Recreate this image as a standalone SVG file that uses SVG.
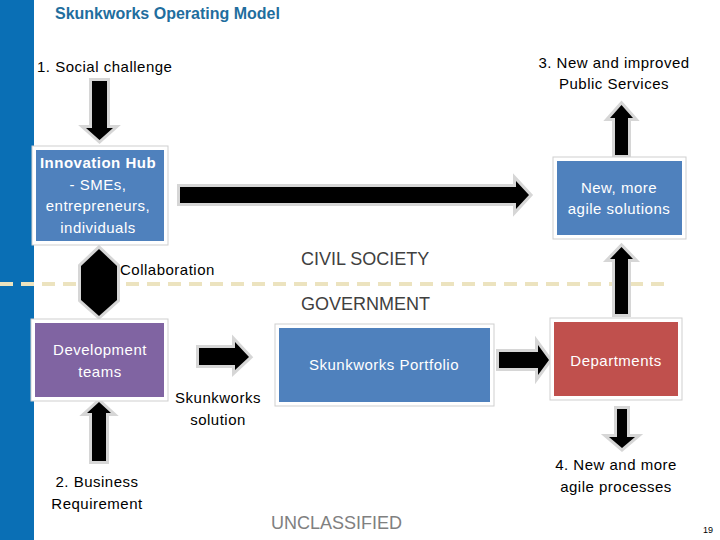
<svg xmlns="http://www.w3.org/2000/svg" width="720" height="540" viewBox="0 0 720 540">
<style>
.cal{font-family:"Liberation Sans","Noto Sans",Arial,sans-serif;font-size:15px;letter-spacing:0.5px;fill:#000}
.wt{font-family:"Liberation Sans","Noto Sans",Arial,sans-serif;font-size:15px;letter-spacing:0.5px;fill:#fff}
.ar{font-family:"Liberation Sans",Arial,sans-serif;font-size:18px;fill:#404040}
.arrow{fill:#000;stroke:#d6d6d6;stroke-width:6;paint-order:stroke;stroke-linejoin:miter}
.frame{fill:#fff;stroke:#cfcfcf;stroke-width:1}
</style>
<rect x="0" y="0" width="720" height="540" fill="#fff"/>
<rect x="0" y="0" width="34" height="540" fill="#0a6fb5"/>
<text x="55" y="19" font-family="Liberation Sans,Arial,sans-serif" font-size="16" font-weight="bold" fill="#1f6e9e">Skunkworks Operating Model</text>
<line x1="0" y1="284" x2="668" y2="284" stroke="#ece3bf" stroke-width="4" stroke-dasharray="13,8"/>
<text class="ar" x="301" y="265">CIVIL SOCIETY</text>
<text class="ar" x="301" y="310">GOVERNMENT</text>
<text x="271" y="529" font-family="Liberation Sans,Arial,sans-serif" font-size="18" fill="#808080">UNCLASSIFIED</text>
<text x="703" y="533" font-family="Liberation Sans,Arial,sans-serif" font-size="9" fill="#000">19</text>

<g id="connectors">
<polygon class="arrow" points="92,81 107,81 107,128 113,128 99.5,140 86,128 92,128"/>
<polygon class="arrow" points="180,187 516,187 516,181 529,195 516,209 516,203 180,203"/>
<polygon class="arrow" points="615,155 628,155 628,118 633,118 621.5,105 610,118 615,118"/>
<polygon class="arrow" points="615,314 628,314 628,259 633,259 621.5,247 610,259 615,259"/>
<polygon class="arrow" points="99,249 117,266 117,300 99,316 81,300 81,266"/>
<polygon class="arrow" points="92,461 106,461 106,413 111,413 99,402 87,413 92,413"/>
<polygon class="arrow" points="199,348 235,348 235,342 249,357 235,370 235,365 199,365"/>
<polygon class="arrow" points="499,352 538,352 538,345 549,360 538,375 538,368 499,368"/>
<polygon class="arrow" points="617,409 627,409 627,437 635,437 622,448 609,437 617,437"/>
</g>

<g id="social-challenge"><text class="cal" x="37" y="72">1. Social challenge</text></g>
<g id="public-services"><text class="cal" x="614" y="68" text-anchor="middle">3. New and improved</text><text class="cal" x="614" y="89" text-anchor="middle">Public Services</text></g>

<g id="innovation-hub">
<rect class="frame" x="32" y="146" width="136" height="99"/>
<rect x="36" y="150" width="128" height="91" fill="#4f81bd"/>
<text class="wt" x="98" y="168" text-anchor="middle" font-weight="bold" letter-spacing="0">Innovation Hub</text>
<text class="wt" x="98" y="190" text-anchor="middle">- SMEs,</text>
<text class="wt" x="98" y="211" text-anchor="middle">entrepreneurs,</text>
<text class="wt" x="98" y="233" text-anchor="middle">individuals</text>
</g>

<g id="new-solutions">
<rect class="frame" x="553" y="157" width="133" height="82"/>
<rect x="557" y="161" width="125" height="74" fill="#4f81bd"/>
<text class="wt" x="619" y="193" text-anchor="middle">New, more</text>
<text class="wt" x="619" y="214" text-anchor="middle">agile solutions</text>
</g>

<g id="collaboration"><text class="cal" x="120" y="275">Collaboration</text></g>

<g id="development-teams">
<rect class="frame" x="31" y="319" width="137" height="82"/>
<rect x="35" y="323" width="129" height="74" fill="#8064a2"/>
<text class="wt" x="100" y="355" text-anchor="middle">Development</text>
<text class="wt" x="100" y="377" text-anchor="middle">teams</text>
</g>

<g id="skunkworks-solution"><text class="cal" x="218" y="403" text-anchor="middle">Skunkworks</text><text class="cal" x="218" y="425" text-anchor="middle">solution</text></g>

<g id="portfolio">
<rect class="frame" x="275" y="324" width="219" height="82"/>
<rect x="279" y="328" width="211" height="74" fill="#4f81bd"/>
<text class="wt" x="384" y="370" text-anchor="middle">Skunkworks Portfolio</text>
</g>

<g id="departments">
<rect class="frame" x="550" y="318" width="132" height="82"/>
<rect x="554" y="322" width="124" height="74" fill="#c0504d"/>
<text class="wt" x="616" y="366" text-anchor="middle">Departments</text>
</g>

<g id="business-requirement"><text class="cal" x="97" y="487" text-anchor="middle">2. Business</text><text class="cal" x="97" y="509" text-anchor="middle">Requirement</text></g>
<g id="agile-processes"><text class="cal" x="616" y="470" text-anchor="middle">4. New and more</text><text class="cal" x="616" y="492" text-anchor="middle">agile processes</text></g>
</svg>
